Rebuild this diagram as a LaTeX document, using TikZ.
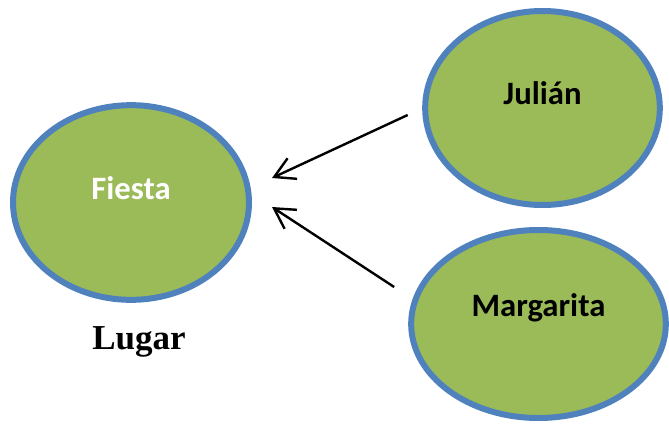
\documentclass[tikz,border=0pt]{standalone}
\usepackage{fontspec}
\setmainfont{Liberation Serif}
\newfontfamily\bubblefont{Carlito}
\usepackage{xcolor}
\definecolor{BubbleGreen}{HTML}{9BBB59}
\definecolor{BubbleBlue}{HTML}{4F81BD}
\usepackage{tikz}
\usetikzlibrary{shapes.geometric}
\usetikzlibrary{arrows.meta}
\usetikzlibrary{positioning}

\begin{document}
\begin{tikzpicture}
          [x=0.75pt, y=-0.75pt,
           bubble/.style={draw=BubbleBlue, fill=BubbleGreen, ellipse,
             line width=4.5pt, inner sep=0pt},
           bubbletext/.style={font=\bubblefont\bfseries\fontsize{24.5}{28}\selectfont},
           >={Straight Barb[length=15pt, width=17pt]}]
          \useasboundingbox (0,0) rectangle (669,425);

          \node (fiesta) [bubble, minimum width=177pt, minimum height=146pt,
            label={[bubbletext, text=white, yshift=10.5pt]center:Fiesta}] at (131,202.5) {};
          \node (julian) [bubble, minimum width=176pt, minimum height=145.5pt,
            label={[bubbletext, yshift=11pt]center:Julián}] at (542.5,108) {};
          \node (margarita) [bubble, minimum width=191pt, minimum height=141pt,
            label={[bubbletext, yshift=12pt]center:Margarita}] at (538.5,324) {};
          \node (lugar) [anchor=base, font=\bfseries\fontsize{26.25}{30}\selectfont]
            at (139,349) {Lugar};

          \coordinate (tipA) at ([shift={(20,-24.5)}]fiesta.east);
          \coordinate (tipB) at ([shift={(20,4.5)}]fiesta.east);
          \coordinate (tailA) at ([shift={(-14.5,7)}]julian.west);
          \coordinate (tailB) at ([shift={(-14,-37)}]margarita.west);

          \draw[->, line width=1.8pt] (tailA) -- (tipA);
          \draw[->, line width=1.8pt] (tailB) -- (tipB);

        \end{tikzpicture}
\end{document}
